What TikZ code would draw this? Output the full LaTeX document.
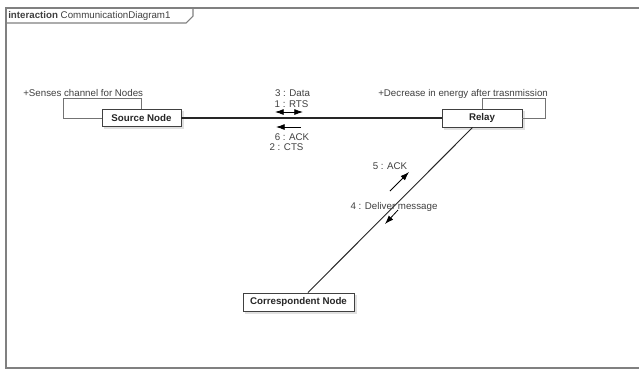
\documentclass[tikz,border=0pt]{standalone}
\usepackage{fontspec}
\setmainfont{Liberation Sans}
\usetikzlibrary{arrows.meta}
\begin{document}
\begin{tikzpicture}[x=0.75pt,y=-0.75pt,
  txt/.style={inner sep=0pt, font=\fontsize{7.3pt}{8pt}\selectfont, text=black!75},
  obj/.style={draw=black!75, fill=white, line width=0.6pt, inner sep=0pt,
    font=\fontsize{7.3pt}{8pt}\selectfont\bfseries, text=black!85},
  shade/.style={fill=black!12, draw=none},
  conn/.style={draw=black!85, line width=0.7pt},
  loop/.style={draw=black!55, line width=0.6pt},
  tip/.style={Latex[length=6.5pt,width=4.5pt]},
  msg/.style={draw=black, line width=0.6pt, -{Latex[length=6.5pt,width=4.5pt]}},
  frame/.style={draw=black!50, line width=0.8pt}]
\useasboundingbox (0,0) rectangle (639,369);
\fill[white] (0,0) rectangle (639,369);
% frame
\draw[frame] (641,8) -- (6,8) -- (6,368) -- (641,368);
\draw[frame] (6,23) -- (186,23) -- (193,16) -- (193,8);
\node[txt, anchor=west] (title) at (8,15.5) {\textbf{interaction} CommunicationDiagram1};
% shadows
\fill[shade] (104,111) rectangle (184,129);
\fill[shade] (444,111) rectangle (525,130);
\fill[shade] (245,295) rectangle (357,314);
% nodes
\node[obj, minimum width=59.25pt, minimum height=13pt] (src) at (141.5,118) {Source Node};
\node[obj, minimum width=60pt, minimum height=13.5pt] (relay) at (482,118) {Relay};
\node[obj, minimum width=83.25pt, minimum height=13.5pt] (corr) at (298.5,302) {Correspondent Node};
% connectors
\draw[conn, line width=1pt] (src) -- (relay);
\draw[conn] (relay) -- (corr);
% self loops
\coordinate (sl) at (63,98);
\coordinate (rl) at (545,98);
\draw[loop] (src.west) -| (sl) -| (src.north);
\draw[loop] (relay.north) |- (rl) |- (relay.east);
\node[txt, anchor=west] (slabel) at (23,93) {+Senses channel for Nodes};
\node[txt, anchor=west] (rlabel) at (378,94) {+Decrease in energy after trasnmission};
% messages source-relay
\node[txt] (m3) at (292.5,93) {3 : Data};
\node[txt] (m1) at (291.5,104) {1 : RTS};
\coordinate (a1s) at (275,112);
\coordinate (a1e) at (303,112);
\draw[draw=black, line width=0.6pt, {Latex[length=6.5pt,width=4.5pt]}-{Latex[length=6.5pt,width=4.5pt]}] (a1s) -- (a1e);
\coordinate (a6s) at (301,127);
\coordinate (a6e) at (276,127);
\draw[msg] (a6s) -- (a6e);
\node[txt] (m6) at (292,137) {6 : ACK};
\node[txt] (m2) at (286.5,147) {2 : CTS};
% messages relay-corr
\node[txt] (m5) at (390,166) {5 : ACK};
\coordinate (a5s) at (390,191);
\coordinate (a5e) at (409,172);
\draw[msg] (a5s) -- (a5e);
\node[txt] (m4) at (394,207) {4 : Deliver message};
\coordinate (a4s) at (398,210);
\coordinate (a4e) at (385,224);
\draw[msg] (a4s) -- (a4e);
\end{tikzpicture}
\end{document}
